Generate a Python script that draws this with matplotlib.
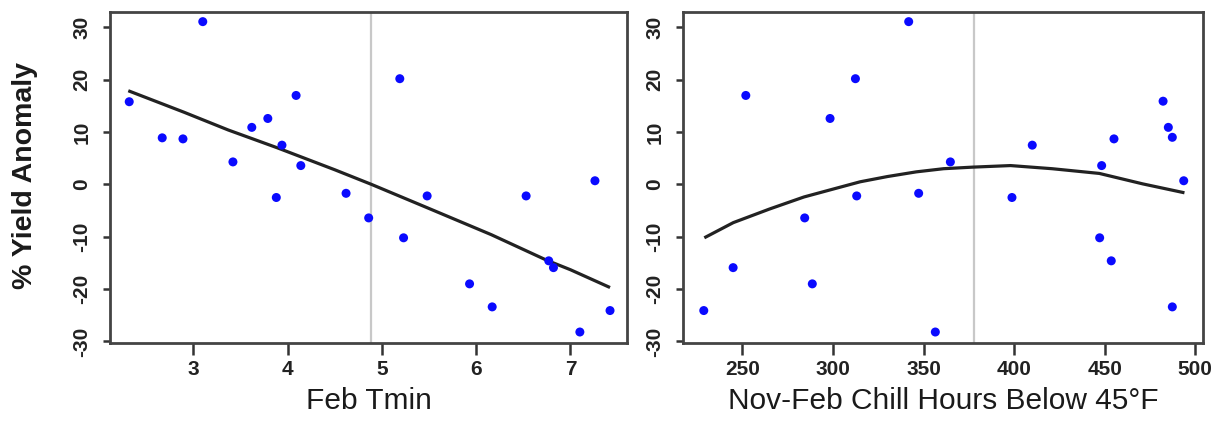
import matplotlib
matplotlib.use("Agg")
import matplotlib.pyplot as plt

# ---------------- data ----------------
feb_tmin = [2.32, 2.67, 2.89, 3.10, 3.42, 3.62, 3.79, 3.88, 3.94, 4.09, 4.14, 4.62,
            4.86, 5.19, 5.23, 5.48, 5.93, 6.17, 6.53, 6.77, 6.82, 7.10, 7.26, 7.42]
anom_left = [15.8, 8.9, 8.7, 31.1, 4.3, 10.9, 12.6, -2.5, 7.5, 17.0, 3.6, -1.7,
             -6.4, 20.2, -10.2, -2.2, -19.0, -23.4, -2.2, -14.6, -15.9, -28.2, 0.7, -24.1]
fit_left_x = [2.31, 2.9, 3.37, 3.89, 4.5, 4.89, 5.5, 6.16, 6.75, 7.0, 7.42]
fit_left_y = [17.9, 13.8, 10.4, 7.0, 2.8, 0.0, -4.6, -9.6, -14.5, -16.3, -19.7]

chill_hours = [228.7, 244.9, 251.9, 284.4, 288.6, 298.4, 312.4, 313.1, 341.8, 347.3,
               356.5, 364.8, 398.8, 410.0, 447.2, 448.3, 453.6, 455.1, 482.2, 485.1,
               487.3, 487.3, 493.6]
anom_right = [-24.1, -15.9, 17.0, -6.4, -19.0, 12.6, 20.2, -2.2, 31.1, -1.7,
              -28.2, 4.3, -2.5, 7.5, -10.2, 3.6, -14.6, 8.7, 15.9, 10.9,
              9.0, -23.4, 0.7]
fit_right_x = [229, 245, 265, 284, 300, 315, 330, 346, 361, 377, 398, 421, 447, 471, 494]
fit_right_y = [-10.2, -7.3, -4.7, -2.4, -0.9, 0.5, 1.5, 2.4, 3.0, 3.3, 3.6, 3.0, 2.1, 0.1, -1.6]

vline_left = 4.88
vline_right = 378

left_xticks = [3, 4, 5, 6, 7]
right_xticks = [250, 300, 350, 400, 450, 500]
yticks = [-30, -20, -10, 0, 10, 20, 30]

left_xlabel = "Feb Tmin"
right_xlabel = "Nov-Feb Chill Hours Below 45°F"
ylabel = "% Yield Anomaly"

# ---------------- figure ----------------
plt.rcParams['font.family'] = ['Liberation Sans', 'DejaVu Sans']
plt.rcParams['axes.unicode_minus'] = False
W, H = 1217, 421
fig = plt.figure(figsize=(W / 100, H / 100), dpi=100)

def px_axes(x0, x1, ytop, ybot):
    return fig.add_axes([x0 / W, 1 - ybot / H, (x1 - x0) / W, (ybot - ytop) / H])

axL = px_axes(110, 627, 11.7, 343)
axR = px_axes(683.3, 1203.3, 11.7, 343)

spine_col = '#444444'
for ax, xs, ys, fx, fy, vl, xt, xl in [
        (axL, feb_tmin, anom_left, fit_left_x, fit_left_y, vline_left, left_xticks, left_xlabel),
        (axR, chill_hours, anom_right, fit_right_x, fit_right_y, vline_right, right_xticks, right_xlabel)]:
    ax.axvline(vl, color='#c8c8c8', lw=1.6, zorder=1)
    ax.plot(fx, fy, color='#222222', lw=2.3, zorder=2, solid_capstyle='butt')
    ax.scatter(xs, ys, s=42, color='#0a0aff', edgecolors='none', zorder=3)
    ax.set_ylim(-30.3, 33.0)
    ax.set_yticks(yticks)
    ax.set_xticks(xt)
    for sp in ax.spines.values():
        sp.set_color(spine_col)
        sp.set_linewidth(2.0)
    ax.tick_params(axis='x', direction='out', length=8.5, width=1.8, color='#333333',
                   pad=3.5, labelsize=15, labelcolor='#222222')
    ax.tick_params(axis='y', direction='out', length=5, width=1.8, color='#333333',
                   pad=8.5, labelsize=15, labelcolor='#222222')
    for lab in ax.get_xticklabels() + ax.get_yticklabels():
        lab.set_fontweight('bold')
    for lab in ax.get_yticklabels():
        lab.set_rotation(90)
        lab.set_va('center')
    ax.set_xlabel(xl, fontsize=21.5, color='#1a1a1a', labelpad=6)

axL.set_xlim(2.116, 7.60)
axR.set_xlim(217.4, 504.4)

axL.set_ylabel(ylabel, fontsize=20.5, fontweight='bold', color='#1a1a1a', va='center')
axL.yaxis.set_label_coords(-0.164, 0.507)

fig.savefig("out.png", dpi=100, facecolor='white')
